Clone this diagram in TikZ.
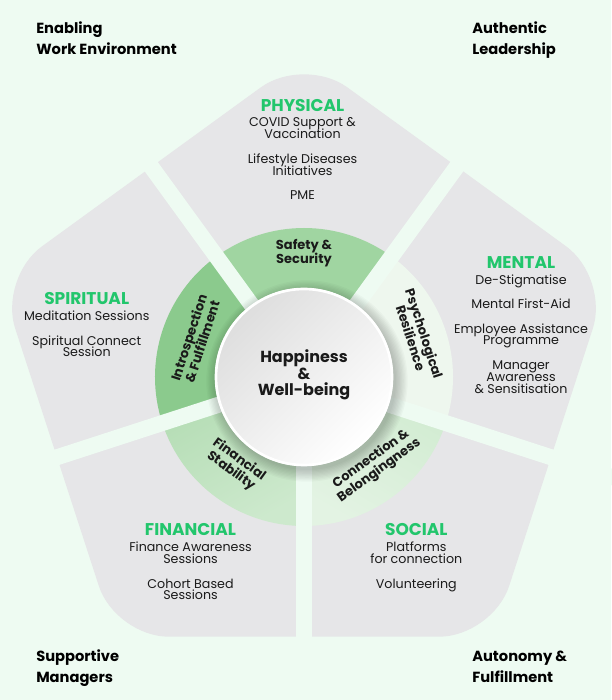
\documentclass[tikz,border=0pt]{standalone}
\usepackage{fontspec}
\setmainfont{Poppins}
\usetikzlibrary{calc}
\definecolor{bg}{HTML}{EEFBF2}
\definecolor{sectorgray}{HTML}{E6E6E8}
\definecolor{hdrgreen}{HTML}{22C66C}
\definecolor{txt}{HTML}{1A1A1A}
\definecolor{ringA}{HTML}{A0D5A1}
\definecolor{ringB}{HTML}{8BCA8D}
\definecolor{ringCa}{HTML}{B3DCB3}
\definecolor{ringCb}{HTML}{CDE9CD}
\definecolor{ringDa}{HTML}{D0EBD0}
\definecolor{ringDb}{HTML}{E3F3E3}
\definecolor{ringE}{HTML}{EEF7EE}
\begin{document}
\begin{tikzpicture}[x=0.75pt,y=0.75pt,
  corner/.style={anchor=base west, inner sep=0pt, font=\fontsize{11}{13}\selectfont\bfseries, text=black},
  hdr/.style={anchor=base, inner sep=0pt, font=\fontsize{12.75}{14}\selectfont\bfseries, text=hdrgreen},
  body/.style={anchor=base, inner sep=0pt, font=\fontsize{9.5}{11}\selectfont, text=txt},
  ringlbl/.style={align=center, inner sep=0pt, font=\fontsize{9.75}{10.5}\selectfont\bfseries, text=txt},
  centerlbl/.style={align=center, inner sep=0pt, font=\fontsize{12}{12.5}\selectfont\bfseries, text=txt},
  gap/.style={line width=12pt, draw=bg},
]
% background / bounding box
\fill[bg] (0,0) rectangle (611,700);
\useasboundingbox (0,0) rectangle (611,700);
\coordinate (C) at (304,323);

% rounded pentagon (start at an edge midpoint so every vertex is rounded)
\fill[sectorgray, rounded corners=40pt]
  ($(C)+(54:260)$) -- ($(C)+(90:321)$) -- ($(C)+(162:321)$) -- ($(C)+(234:321)$)
  -- ($(C)+(306:321)$) -- ($(C)+(18:321)$) -- cycle;

% ring segments
\fill[ringA] (C) -- ($(C)+(54:149)$) arc[start angle=54, end angle=126, radius=149] -- cycle;
\fill[ringB] (C) -- ($(C)+(126:149)$) arc[start angle=126, end angle=198, radius=149] -- cycle;
\shade[top color=ringCa, bottom color=ringCb, shading angle=30]
  (C) -- ($(C)+(198:149)$) arc[start angle=198, end angle=270, radius=149] -- cycle;
\shade[top color=ringDa, bottom color=ringDb, shading angle=-30]
  (C) -- ($(C)+(270:149)$) arc[start angle=270, end angle=342, radius=149] -- cycle;
\fill[ringE] (C) -- ($(C)+(-18:149)$) arc[start angle=-18, end angle=54, radius=149] -- cycle;

% gaps
\foreach \a in {54,126,198,270,342}
  \draw[gap] (C) -- ($(C)+(\a:345)$);

% centre circle with soft shadow
\foreach \k in {0,...,9}
  \fill[black, opacity=0.022] ($(C)+(3,-4)$) circle[radius=89+\k*1.3];
\shade[top color=black!13, bottom color=white, shading angle=45] (C) circle[radius=89];
\draw[white, line width=2pt] (C) circle[radius=88];

% centre label
\node[centerlbl] (core) at ($(C)+(0,2)$) {Happiness\\\&\\Well-being};

% ring labels
\node[ringlbl, rotate=0]   (safety)  at ($(C)+(90:124)$)  {Safety \&\\Security};
\node[ringlbl, rotate=72]  (intro)   at ($(C)+(161:115)$) {Introspection\\\& Fulfillment};
\node[ringlbl, rotate=-72] (psych)   at ($(C)+(20:121)$)  {Psychological\\Resilience};
\node[ringlbl, rotate=-36] (finstab) at ($(C)+(232:112)$) {Financial\\Stability};
\node[ringlbl, rotate=36]  (connect) at ($(C)+(309:113)$) {Connection \&\\Belongingness};

% PHYSICAL
\node[hdr]  (phys)  at (302.5,588.3) {PHYSICAL};
\node[body] (phys1) at (302.5,573.3) {COVID Support \&};
\node[body] (phys2) at (302.5,561.7) {Vaccination};
\node[body] (phys3) at (302.5,536)   {Lifestyle Diseases};
\node[body] (phys4) at (302.5,524.3) {Initiatives};
\node[body] (phys5) at (302.5,500)   {PME};

% SPIRITUAL
\node[hdr]  (spir)  at (86.7,395)   {SPIRITUAL};
\node[body] (spir1) at (86.7,379.3) {Meditation Sessions};
\node[body] (spir2) at (86.7,354.3) {Spiritual Connect};
\node[body] (spir3) at (86.7,343.3) {Session};

% MENTAL
\node[hdr]  (ment)  at (521,431.7) {MENTAL};
\node[body] (ment1) at (521,415.7) {De-Stigmatise};
\node[body] (ment2) at (521,391.7) {Mental First-Aid};
\node[body] (ment3) at (521,366.7) {Employee Assistance};
\node[body] (ment4) at (521,355.7) {Programme};
\node[body] (ment5) at (521,330)   {Manager};
\node[body] (ment6) at (521,318.3) {Awareness};
\node[body] (ment7) at (521,306.7) {\& Sensitisation};

% FINANCIAL
\node[hdr]  (fin)  at (190.5,164.3) {FINANCIAL};
\node[body] (fin1) at (190.5,148.3) {Finance Awareness};
\node[body] (fin2) at (190.5,136.7) {Sessions};
\node[body] (fin3) at (190.5,111.7) {Cohort Based};
\node[body] (fin4) at (190.5,100)   {Sessions};

% SOCIAL
\node[hdr]  (soc)  at (416.3,164.3) {SOCIAL};
\node[body] (soc1) at (416.3,148.3) {Platforms};
\node[body] (soc2) at (416.3,136)   {for connection};
\node[body] (soc3) at (416.3,111.7) {Volunteering};

% corner labels
\node[corner] (env1)  at (36,666)  {Enabling};
\node[corner] (env2)  at (36,645)  {Work Environment};
\node[corner] (lead1) at (472,666) {Authentic};
\node[corner] (lead2) at (472,645) {Leadership};
\node[corner] (mgr1)  at (36,38)   {Supportive};
\node[corner] (mgr2)  at (36,17)   {Managers};
\node[corner] (aut1)  at (472,38)  {Autonomy \&};
\node[corner] (aut2)  at (472,17)  {Fulfillment};
\end{tikzpicture}
\end{document}
